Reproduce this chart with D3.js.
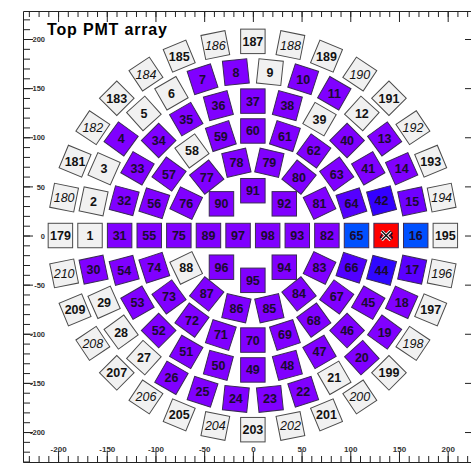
<!DOCTYPE html>
<html><head><meta charset="utf-8">
<script src="https://cdn.jsdelivr.net/npm/d3@7"></script>
<style>
html,body{margin:0;padding:0;background:#fff;}
svg{display:block;}
</style></head>
<body>
<svg id="chart" width="471" height="464"></svg>
<script>
// ---------------- data ----------------
const title = "Top PMT array";
const ringRadii = [45.6, 76, 106.4, 136.8, 167.2, 197.6];
const ringSlots = [8, 14, 20, 24, 30, 32];
const ringRotates = [false, true, true, true, true, true];
const ringUpper = [
  [90, 91, 92],
  [76, 77, 78, 79, 80, 81],
  [56, 57, 58, 59, 60, 61, 62, 63, 64],
  [32, 33, 34, 35, 36, 37, 38, 39, 40, 41, 42],
  [2, 3, 4, 5, 6, 7, 8, 9, 10, 11, 12, 13, 14, 15],
  [180, 181, 182, 183, 184, 185, 186, 187, 188, 189, 190, 191, 192, 193, 194]
];
const ringLower = [
  [96, 95, 94],
  [88, 87, 86, 85, 84, 83],
  [74, 73, 72, 71, 70, 69, 68, 67, 66],
  [54, 53, 52, 51, 50, 49, 48, 47, 46, 45, 44],
  [30, 29, 28, 27, 26, 25, 24, 23, 22, 21, 20, 19, 18, 17],
  [210, 209, 208, 207, 206, 205, 204, 203, 202, 201, 200, 199, 198, 197, 196]
];
const rowIds = [179, 1, 31, 55, 75, 89, 97, 98, 93, 82, 65, 43, 16, 195];
const rowX = [-197.6, -167.2, -136.8, -106.4, -76, -45.6, -15.2, 15.2, 45.6, 76, 106.4, 136.8, 167.2, 197.6];
const offIds = [1, 2, 3, 5, 6, 9, 12, 21, 27, 28, 29, 39, 58, 88,
  179, 180, 181, 182, 183, 184, 185, 186, 187, 188, 189, 190, 191, 192, 193, 194, 195,
  196, 197, 198, 199, 200, 201, 202, 203, 204, 205, 206, 207, 208, 209, 210];
const italicIds = [180, 182, 184, 186, 188, 190, 192, 194, 196, 198, 200, 202, 204, 206, 208, 210];
const hitIds = [43, 65, 16, 42, 44, 64, 66, 17, 15];
const hitValues = [100, 15, 15, 9, 9.5, 5, 5.5, 4.5, 2];
const markerId = 43;
const xTickLabels = [-200, -150, -100, -50, 0, 50, 100, 150, 200];
const yTickLabels = [-200, -150, -100, -50, 0, 50, 100, 150, 200];

// ---------------- layout ----------------
const PMT_SIDE = 25;
const svg = d3.select("#chart");
const xS = d3.scaleLinear().domain([-236, 226]).range([23, 473]);
const yS = d3.scaleLinear().domain([-230.5, 228.5]).range([462, 11]);
const color = d3.scaleLinear()
  .domain([0, 9, 15, 40, 60, 80, 100])
  .range(["#8000ff", "#3300ff", "#0050ff", "#00e0ff", "#00ff40", "#ffff00", "#ff0000"]);
const hitMap = new Map(hitIds.map((id, i) => [id, hitValues[i]]));
const offSet = new Set(offIds);
const italicSet = new Set(italicIds);

const pmts = [];
ringRadii.forEach((r, ri) => {
  const step = 360 / ringSlots[ri];
  const n = ringUpper[ri].length;
  ringUpper[ri].forEach((id, j) => {
    const ang = (n - j) * step;
    pmts.push({id, x: r * Math.cos(ang * Math.PI / 180), y: r * Math.sin(ang * Math.PI / 180), rot: ringRotates[ri] ? -ang : 0});
  });
  ringLower[ri].forEach((id, j) => {
    const ang = -(n - j) * step;
    pmts.push({id, x: r * Math.cos(ang * Math.PI / 180), y: r * Math.sin(ang * Math.PI / 180), rot: ringRotates[ri] ? -ang : 0});
  });
});
rowIds.forEach((id, i) => pmts.push({id, x: rowX[i], y: 0, rot: 0}));

const sideX = xS(PMT_SIDE) - xS(0);
const sideY = yS(0) - yS(PMT_SIDE);
const side = (sideX + sideY) / 2;

// ---------------- axes ----------------
const minorX = d3.range(-230, 226, 10);
const minorY = d3.range(-230, 229, 10);
const axisFont = "Liberation Sans, Arial, sans-serif";
const fmt = d => String(d);

function styleAxis(g) {
  g.select(".domain").attr("stroke", "#222").attr("stroke-width", 1);
  g.selectAll(".tick line").attr("stroke", "#222").attr("stroke-width", 1);
}

// top axis
const gTop = svg.append("g").attr("transform", `translate(0,${yS.range()[1]})`);
gTop.call(d3.axisTop(xS).tickValues(minorX).tickSize(-6).tickSizeOuter(0).tickFormat(""));
styleAxis(gTop);
const gTopM = svg.append("g").attr("transform", `translate(0,${yS.range()[1]})`);
gTopM.call(d3.axisTop(xS).tickValues(xTickLabels).tickSize(-11).tickSizeOuter(0).tickFormat(""));
gTopM.select(".domain").remove(); styleAxis(gTopM);

// bottom axis
const gBot = svg.append("g").attr("transform", `translate(0,${yS.range()[0]})`);
gBot.call(d3.axisBottom(xS).tickValues(minorX).tickSize(-6).tickSizeOuter(0).tickFormat(""));
styleAxis(gBot);
const gBotM = svg.append("g").attr("transform", `translate(0,${yS.range()[0]})`);
gBotM.call(d3.axisBottom(xS).tickValues(xTickLabels).tickSize(-11).tickSizeOuter(0).tickFormat(fmt));
gBotM.select(".domain").remove(); styleAxis(gBotM);
gBotM.selectAll(".tick text").attr("y", -13).attr("dy", "0.35em")
  .attr("font-family", axisFont).attr("font-size", 8).attr("font-weight", "bold").attr("fill", "#333");

// left axis
const gLeft = svg.append("g").attr("transform", `translate(${xS.range()[0]},0)`);
gLeft.call(d3.axisLeft(yS).tickValues(minorY).tickSize(-7).tickSizeOuter(0).tickFormat(""));
styleAxis(gLeft);
const gLeftM = svg.append("g").attr("transform", `translate(${xS.range()[0]},0)`);
gLeftM.call(d3.axisLeft(yS).tickValues(yTickLabels).tickSize(-10).tickSizeOuter(0).tickFormat(fmt));
gLeftM.select(".domain").remove(); styleAxis(gLeftM);
gLeftM.selectAll(".tick text").attr("x", 22).attr("dy", "0.35em").attr("text-anchor", "end")
  .attr("font-family", axisFont).attr("font-size", 7.5).attr("font-weight", "bold").attr("fill", "#333");

// right axis
const gRight = svg.append("g").attr("transform", `translate(${xS.range()[1]},0)`);
gRight.call(d3.axisRight(yS).tickValues(yTickLabels).tickSize(-8).tickSizeOuter(0).tickFormat(""));
styleAxis(gRight);

// ---------------- PMTs ----------------
const g = svg.append("g");
const cells = g.selectAll("g.pmt").data(pmts).join("g")
  .attr("class", "pmt")
  .attr("transform", d => `translate(${xS(d.x)},${yS(d.y)})`);

cells.append("rect")
  .attr("x", -side / 2).attr("y", -side / 2)
  .attr("width", side).attr("height", side)
  .attr("transform", d => `rotate(${d.rot})`)
  .attr("fill", d => offSet.has(d.id) ? "#f1f1f1" : color(hitMap.get(d.id) || 0))
  .attr("stroke", d => offSet.has(d.id) ? "#4a4a4a" : "#3a2a55")
  .attr("stroke-width", 1);

cells.append("text")
  .attr("text-anchor", "middle")
  .attr("dy", "0.36em")
  .attr("font-family", "Liberation Sans, Arial, sans-serif")
  .attr("font-size", 12.5)
  .attr("font-weight", d => italicSet.has(d.id) ? "normal" : "bold")
  .attr("font-style", d => italicSet.has(d.id) ? "italic" : "normal")
  .attr("fill", d => offSet.has(d.id) ? "#111" : "#1a0a30")
  .text(d => d.id);

// marker on the hit PMT
const mk = pmts.find(d => d.id === markerId);
const mg = svg.append("g").attr("transform", `translate(${xS(mk.x)},${yS(mk.y)})`);
const mr = 4.5;
[["#ffffff", 3.2], ["#111111", 1.4]].forEach(([c, w]) => {
  mg.append("line").attr("x1", -mr).attr("y1", -mr).attr("x2", mr).attr("y2", mr).attr("stroke", c).attr("stroke-width", w);
  mg.append("line").attr("x1", -mr).attr("y1", mr).attr("x2", mr).attr("y2", -mr).attr("stroke", c).attr("stroke-width", w);
});

// ---------------- title ----------------
svg.append("text")
  .attr("x", 47).attr("y", 35)
  .attr("font-family", "Liberation Sans, Arial, sans-serif")
  .attr("font-size", 16).attr("font-weight", "bold")
  .attr("textLength", 120).attr("lengthAdjust", "spacing")
  .attr("fill", "#000")
  .text(title);
</script>
</body></html>
